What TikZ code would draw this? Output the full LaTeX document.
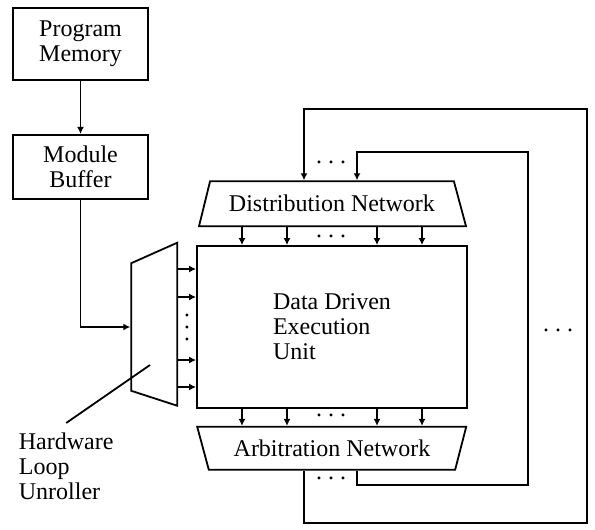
\documentclass[tikz,border=0pt]{standalone}
\usepackage{fontspec}
\setmainfont{Liberation Serif}
\usetikzlibrary{positioning,arrows.meta,shapes.geometric}
\newcommand{\tdots}{.\hspace{0.25em}.\hspace{0.25em}.}

\begin{document}
\begin{tikzpicture}[x=0.5pt,y=-0.5pt,line width=0.9pt,font=\fontsize{12}{12.5}\selectfont,
  >={Latex[length=3.5pt,width=3.5pt]}]
\tikzstyle{element}=[draw,rectangle,align=center,minimum width=67.5pt]
\tikzstyle{network}=[draw,trapezium,trapezium stretches body,inner sep=2pt]
\tikzstyle{dots}=[inner sep=0pt]
\useasboundingbox (0,0) rectangle (595,530);

\node[element,minimum height=36pt] (pm) at (80.5,44) {Program\\Memory};
\node[element,minimum height=32pt,below=26.5pt of pm] (mb) {Module\\Buffer};

\node[element,minimum width=135pt,minimum height=81pt,align=left] (ddeu) at (332,327) {Data Driven\\Execution\\Unit};
\node[network,above=9pt of ddeu,trapezium left angle=66,trapezium right angle=64,
  minimum width=133.5pt,minimum height=22.5pt] (dn) {Distribution Network};
\node[network,below=8.5pt of ddeu,trapezium left angle=115,trapezium right angle=114,
  minimum width=134.5pt,minimum height=21.5pt] (an) {Arbitration Network};
\node[draw,trapezium,shape border rotate=90,trapezium left angle=72,trapezium right angle=66,
  trapezium stretches body,inner xsep=11.5pt,inner ysep=0pt,minimum width=81.5pt,
  left=9pt of ddeu] (hlu) {};

\node[align=left,anchor=north west,inner sep=0pt] (hlulabel) at (18,432) {Hardware\\Loop\\Unroller};
\coordinate (hlutip) at (150,365);

\node[dots] (dotsin) at (331,236) {\tdots};
\node[dots] (dotsout) at (331,415) {\tdots};
\node[dots,rotate=90] (dotshlu) at (187,327) {\tdots};
\node[dots] (dotstop) at (331,162) {\tdots};
\node[dots] (dotsbot) at (331,478) {\tdots};
\node[dots] (dotsside) at (558,330) {\tdots};

\draw[->] (pm) -- (mb);
\draw[->] (mb.south) |- (hlu.west);
\draw (hlutip) -- ([yshift=4.5pt]hlulabel.north);

\foreach \y in {269,297,360,387}
  \draw[->] (hlu.east |- 0,\y) -- (ddeu.west |- 0,\y);
\foreach \x in {242,287,377,422} {
  \draw[->] (dn.south -| \x,0) -- (ddeu.north -| \x,0);
  \draw[->] (ddeu.south -| \x,0) -- (an.north -| \x,0);
}

% feedback from arbitration back to distribution
\draw[->] (an.south -| 304,0) |- (587,523) |- (304,109) -- (dn.north -| 304,0);
\draw[->] (an.south -| 357,0) |- (528,485) |- (357,152) -- (dn.north -| 357,0);
\end{tikzpicture}
\end{document}
